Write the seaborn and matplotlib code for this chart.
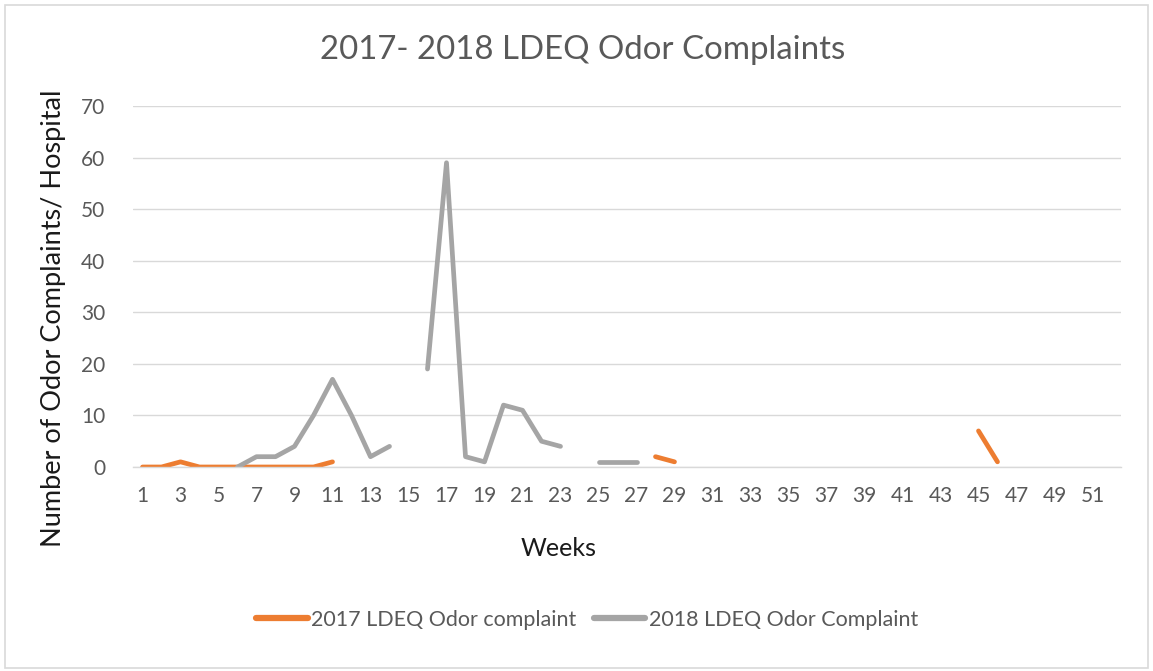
import numpy as np
import pandas as pd
import matplotlib
matplotlib.use("Agg")
import matplotlib.pyplot as plt
import seaborn as sns
from matplotlib.patches import Rectangle

nan = np.nan
weeks = list(range(1, 53))
series_names = ["2017 LDEQ Odor complaint", "2018 LDEQ Odor Complaint"]

# Weekly values (NaN = no data / gap)
values_2017 = [0, 0, 1, 0, 0, 0, 0, 0, 0, 0, 1, nan, nan, nan, nan, nan, nan, nan, nan, nan,
               nan, nan, nan, nan, nan, nan, nan, 2, 1, nan, nan, nan, nan, nan, nan, nan, nan, nan,
               nan, nan, nan, nan, nan, nan, 7, 1, nan, nan, nan, nan, nan, nan]
values_2018 = [nan, nan, nan, nan, nan, 0, 2, 2, 4, 10, 17, 10, 2, 4, nan, 19, 59, 2, 1, 12,
               11, 5, 4, nan, 1, 1, 1, nan, nan, nan, nan, nan, nan, nan, nan, nan, nan, nan,
               nan, nan, nan, nan, nan, nan, nan, nan, nan, nan, nan, nan, nan, nan]
x_tick_labels = [str(w) for w in range(1, 52, 2)]
y_ticks = [0, 10, 20, 30, 40, 50, 60, 70]

colors = {series_names[0]: "#ED7D31", series_names[1]: "#A5A5A5"}

# Build long-form table, with a segment id for each contiguous run (gaps stay gaps)
rows = []
for name, vals in zip(series_names, [values_2017, values_2018]):
    seg = 0
    prev_valid = False
    for w, v in zip(weeks, vals):
        valid = not np.isnan(v)
        if valid and not prev_valid:
            seg += 1
        if valid:
            rows.append({"week": w, "value": v, "series": name, "segment": f"{name}-{seg}"})
        prev_valid = valid
df = pd.DataFrame(rows)

sns.set_theme(style="white")
font = ["Lato", "DejaVu Sans"]
plt.rcParams["font.family"] = font

fig = plt.figure(figsize=(11.53, 6.71), dpi=100)
W, H = 1153, 671
ax = fig.add_axes([133 / W, 1 - 467 / H, (1121 - 133) / W, (467 - 106) / H])

sns.lineplot(data=df, x="week", y="value", hue="series", units="segment", estimator=None,
             palette=colors, hue_order=series_names, linewidth=3.4, ax=ax,
             solid_capstyle="round", solid_joinstyle="round", legend=True, sort=True)

ax.set_xlim(0.5, 52.5)
ax.set_ylim(0, 70)
ax.set_yticks(y_ticks)
ax.set_xticks(range(1, 52, 2))
ax.set_xticklabels(x_tick_labels)
ax.grid(axis="y", color="#D9D9D9", linewidth=1.0)
ax.set_axisbelow(True)
for s in ["top", "right", "left"]:
    ax.spines[s].set_visible(False)
ax.spines["bottom"].set_color("#D9D9D9")
ax.spines["bottom"].set_linewidth(1.0)
ax.tick_params(axis="both", length=0, labelsize=15, labelcolor="#595959")
ax.tick_params(axis="y", pad=20)
ax.tick_params(axis="x", pad=14)

ax.set_xlabel("Weeks", fontsize=18, color="#1a1a1a")
ax.xaxis.set_label_coords((559 - 133) / (1121 - 133), -(537 - 467) / (467 - 106))
ax.set_ylabel("Number of Odor Complaints/ Hospital", fontsize=19.5, color="#1a1a1a")
ax.yaxis.set_label_coords(-(133 - 66) / (1121 - 133), 0.5 - (318 - 286.5) / (467 - 106))

fig.text(583 / W, 1 - 50 / H, "2017- 2018 LDEQ Odor Complaints", ha="center", va="center",
         fontsize=23.8, color="#595959")

handles, labels = ax.get_legend_handles_labels()
ax.legend_.remove()
leg = fig.legend(handles, labels, loc="center", bbox_to_anchor=(587 / W, 1 - 620 / H),
                 ncol=2, frameon=False, fontsize=15.5, handlelength=2.4, handletextpad=0.15,
                 columnspacing=0.8, labelcolor="#595959")
for h in leg.get_lines():
    h.set_linewidth(4.5)
    h.set_solid_capstyle("round")

fig.patches.append(Rectangle((5 / W, 3 / H), (1148 - 5) / W, (666 - 3) / H,
                             transform=fig.transFigure, fill=False, edgecolor="#D9D9D9",
                             linewidth=1.2))

fig.savefig("out.png", dpi=100)
